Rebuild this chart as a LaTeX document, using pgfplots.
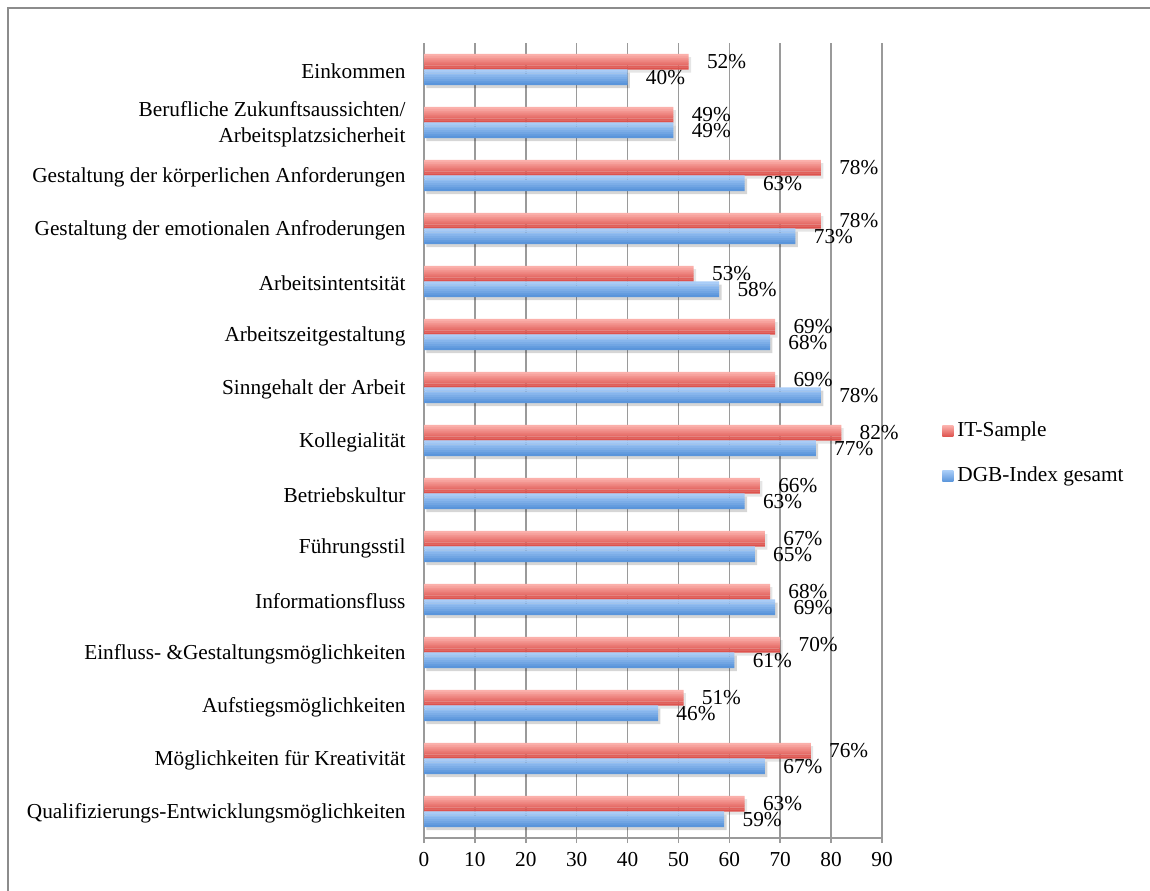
\documentclass[border=0pt]{standalone}
\usepackage{pgfplots}
\pgfplotsset{compat=1.18}
\usepackage{pgfplotstable}
\usepackage{fontspec}
\setmainfont{Liberation Serif}

\definecolor{itTop}{HTML}{FBB0AB}
\definecolor{itBot}{HTML}{DE524D}
\definecolor{dgbTop}{HTML}{A9CDF8}
\definecolor{dgbBot}{HTML}{5A95DB}
\definecolor{gridgray}{HTML}{9A9A9A}
\definecolor{framegray}{HTML}{8C8C8C}

% y = row position (0 = bottom row), it = IT-Sample, dgb = DGB-Index gesamt
\pgfplotstableread{
y  it  dgb
14 52  40
13 49  49
12 78  63
11 78  73
10 53  58
9  69  68
8  69  78
7  82  77
6  66  63
5  67  65
4  68  69
3  70  61
2  51  46
1  76  67
0  63  59
}\ratings

% one horizontal strip of every bar in a series; stacking strips of
% graded colour gives each bar its own top-to-bottom gradient
\newcommand\barstrip[5]{% column, shift, top colour, bottom colour, share of top colour
  \addplot[forget plot, bar shift=#2, bar width=0.04, draw=none,
    fill=#3!#5!#4, nodes near coords={}] table[x=#1, y=y] {\ratings};}

\begin{document}
\fontsize{10.65pt}{12.8pt}\selectfont
\begin{tikzpicture}
\useasboundingbox (0,0) rectangle (575pt,445pt);
% outer chart frame (only top and left edge lie inside the page)
\draw[framegray, line width=1pt] (4pt,-20pt) -- (4pt,441pt) -- (600pt,441pt);
\begin{axis}[
  at={(212pt,26pt)}, anchor=south west,
  scale only axis,
  width=229pt, height=397.5pt,
  xmin=0, xmax=90,
  ymin=-0.5, ymax=14.5,
  axis x line*=bottom, axis y line*=left,
  axis line style={gridgray, line width=0.75pt, -},
  xtick={0,10,...,90},
  xmajorgrids,
  major grid style={gridgray, line width=0.75pt},
  tick align=outside,
  x tick style={gridgray, line width=0.75pt},
  major tick length=2.5pt,
  ytick={0,...,14},
  y tick style={draw=none},
  minor ytick={-0.5,0.5,...,14.5},
  minor y tick style={gridgray, line width=0.75pt},
  minor tick length=2.5pt,
  yticklabels={
    Qualifizierungs-Entwicklungsmöglichkeiten,
    Möglichkeiten für Kreativität,
    Aufstiegsmöglichkeiten,
    Einfluss- \&Gestaltungsmöglichkeiten,
    Informationsfluss,
    Führungsstil,
    Betriebskultur,
    Kollegialität,
    Sinngehalt der Arbeit,
    Arbeitszeitgestaltung,
    Arbeitsintentsität,
    Gestaltung der emotionalen Anfroderungen,
    Gestaltung der körperlichen Anforderungen,
    {Berufliche Zukunftsaussichten/\\Arbeitsplatzsicherheit},
    Einkommen},
  yticklabel style={align=right, xshift=-3pt, yshift=-1pt},
  xticklabel style={yshift=-1pt},
  /pgf/number format/assume math mode=true,
  xbar,
  bar width=0.2925,
  clip=false,
  nodes near coords={\pgfmathprintnumber{\pgfplotspointmeta}\%},
  every node near coord/.append style={anchor=west, inner sep=0pt, xshift=9pt, text=black},
  legend style={draw=none, fill=none, at={(1.131,0.4836)}, anchor=west,
    inner sep=0pt, row sep=9.5pt, legend cell align=left},
]
\addlegendimage{legend image code/.code={\shade[draw=none, top color=itTop, bottom color=itBot] (0pt,-2.75pt) rectangle (5.5pt,2.75pt);}}
\addlegendentry{IT-Sample}
\addlegendimage{legend image code/.code={\shade[draw=none, top color=dgbTop, bottom color=dgbBot] (0pt,-2.75pt) rectangle (5.5pt,2.75pt);}}
\addlegendentry{DGB-Index gesamt}

% soft drop shadows beneath the bars
\addplot[forget plot, bar shift=0.146, draw=none, fill=black, fill opacity=0.10,
  xshift=1.2pt, yshift=-1.6pt, nodes near coords={}] table[x=it, y=y] {\ratings};
\addplot[forget plot, bar shift=-0.146, draw=none, fill=black, fill opacity=0.16,
  xshift=1.2pt, yshift=-1.6pt, nodes near coords={}] table[x=dgb, y=y] {\ratings};

% IT-Sample bars (upper bar of each row)
\barstrip{it}{0.2742}{itTop}{itBot}{100}
\barstrip{it}{0.2377}{itTop}{itBot}{86}
\barstrip{it}{0.2011}{itTop}{itBot}{71}
\barstrip{it}{0.1645}{itTop}{itBot}{57}
\barstrip{it}{0.1280}{itTop}{itBot}{43}
\barstrip{it}{0.0914}{itTop}{itBot}{29}
\barstrip{it}{0.0548}{itTop}{itBot}{14}
\barstrip{it}{0.0183}{itTop}{itBot}{0}
% DGB-Index gesamt bars (lower bar of each row)
\barstrip{dgb}{-0.0183}{dgbTop}{dgbBot}{100}
\barstrip{dgb}{-0.0548}{dgbTop}{dgbBot}{86}
\barstrip{dgb}{-0.0914}{dgbTop}{dgbBot}{71}
\barstrip{dgb}{-0.1280}{dgbTop}{dgbBot}{57}
\barstrip{dgb}{-0.1645}{dgbTop}{dgbBot}{43}
\barstrip{dgb}{-0.2011}{dgbTop}{dgbBot}{29}
\barstrip{dgb}{-0.2377}{dgbTop}{dgbBot}{14}
\barstrip{dgb}{-0.2742}{dgbTop}{dgbBot}{0}

% value labels at the end of each bar
\addplot[forget plot, bar shift=0.146, draw=none, fill=none] table[x=it, y=y] {\ratings};
\addplot[forget plot, bar shift=-0.146, draw=none, fill=none] table[x=dgb, y=y] {\ratings};
\end{axis}
\end{tikzpicture}
\end{document}
